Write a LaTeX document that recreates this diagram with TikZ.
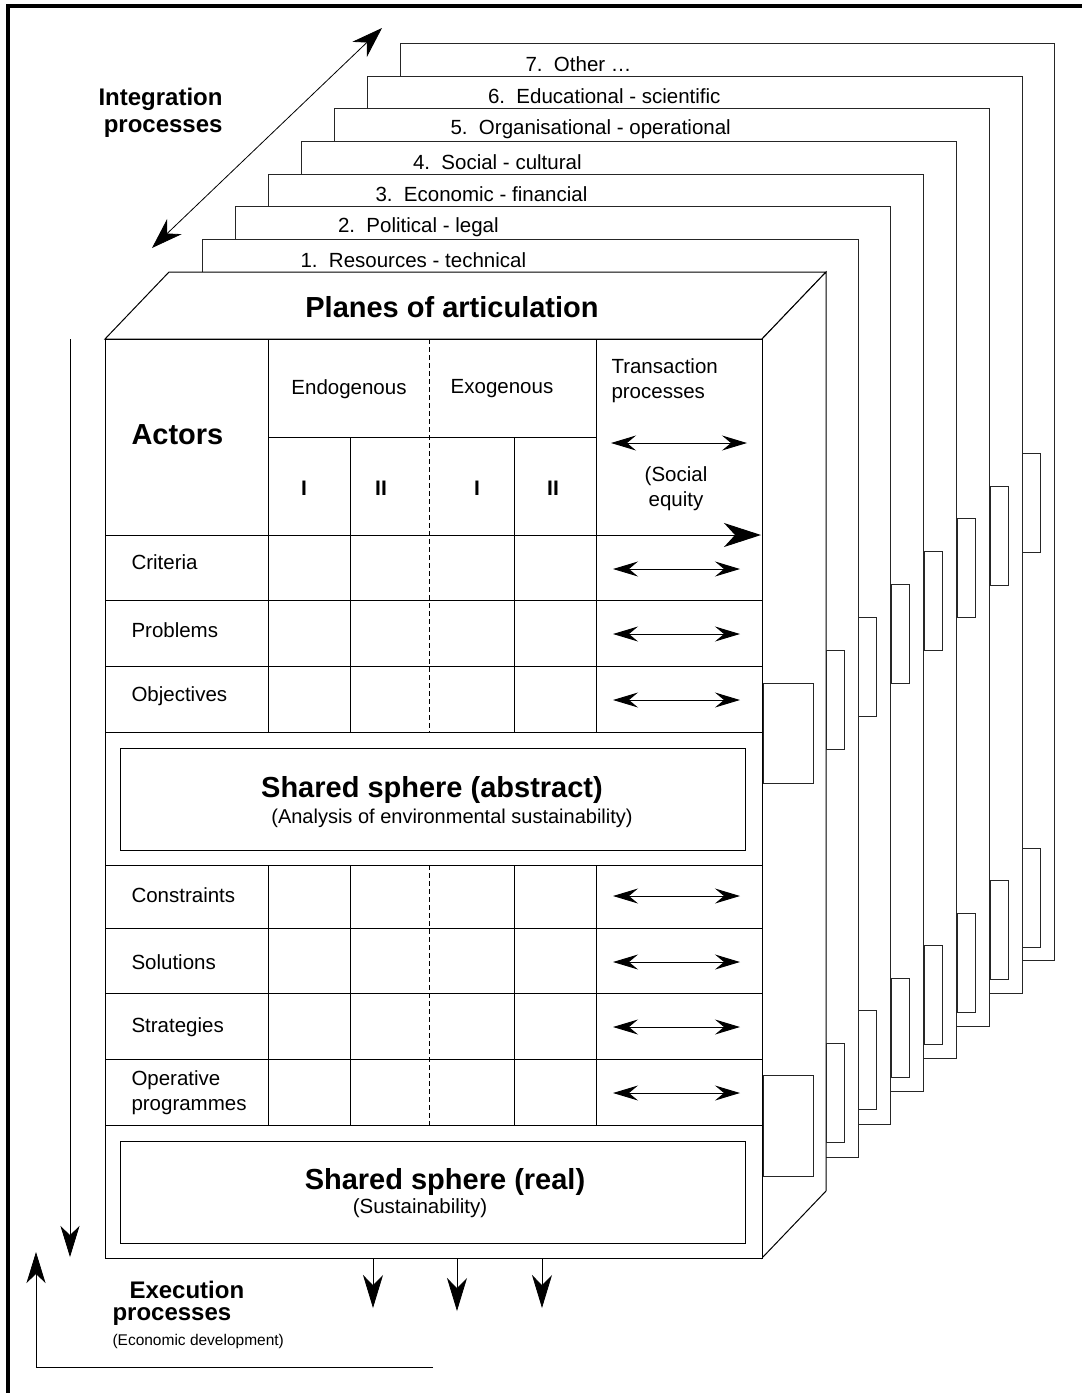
\documentclass[tikz,border=0pt]{standalone}
\usepackage{fontspec}
\setmainfont{Liberation Sans}
\usetikzlibrary{arrows.meta}
\begin{document}
\begin{tikzpicture}[x=1pt,y=-1pt,line width=1pt,line join=miter,
  reg/.style={font=\fontsize{20.5}{25}\selectfont,inner sep=0pt},
  small/.style={font=\fontsize{16}{19}\selectfont,inner sep=0pt},
  bld/.style={font=\fontsize{29}{33}\selectfont\bfseries,inner sep=0pt},
  side/.style={font=\fontsize{24}{27}\selectfont\bfseries,inner sep=0pt},
  roman/.style={font=\fontsize{21}{24}\selectfont\bfseries,inner sep=0pt},
  plane/.style={draw=black!85,fill=white},
  tab/.style={draw=black!85,fill=white},
  dbl/.style={{Stealth[length=25pt,width=15pt,inset=9pt]}-{Stealth[length=25pt,width=15pt,inset=9pt]}},
  bigdown/.style={-{Stealth[length=33pt,width=20pt,inset=10pt]}},
  thinarrow/.style={line width=0.8pt,-{Stealth[length=31pt,width=19pt,inset=9pt]}},
  bigright/.style={-{Stealth[length=37pt,width=24pt,inset=11pt]}},
  intarrow/.style={line width=0.8pt,{Stealth[length=31pt,width=21pt,inset=10pt]}-{Stealth[length=31pt,width=21pt,inset=10pt]}}
]
\useasboundingbox (0,0) rectangle (1082,1393);
\fill[white] (0,0) rectangle (1082,1393);

% outer frame (left and top)
\draw[line width=3.5pt] (8,1393) -- (8,6) -- (1082,6);

% planes, back to front
\foreach \k/\txt in {7/{7.\ \ Other \dots},6/{6.\ \ Educational - scientific},5/{5.\ \ Organisational - operational},4/{4.\ \ Social - cultural},3/{3.\ \ Economic - financial},2/{2.\ \ Political - legal},1/{1.\ \ Resources - technical}} {
  \pgfmathsetmacro\L{202+33*(\k-1)}
  \pgfmathsetmacro\T{239.5-32.7*(\k-1)}
  \pgfmathsetmacro\R{858+32.8*(\k-1)}
  \pgfmathsetmacro\B{1157-32.7*(\k-1)}
  \pgfmathsetmacro\X{300+37.5*(\k-1)}
  \pgfmathsetmacro\Y{\T+20.5}
  \draw[plane] (\L,\T) rectangle (\R,\B);
  \node[reg,anchor=west] (plane\k) at (\X,\Y) {\txt};
}

% the box
\draw[fill=white] (105,339) -- (169,272) -- (826,272) -- (762,339) -- cycle;
\draw[fill=white] (762,339) -- (826,272) -- (826,1191) -- (762,1258) -- cycle;
\draw[fill=white] (105,339) rectangle (762,1258);

% tabs on the plane edges
\foreach \k in {0,...,6} {
  \pgfmathsetmacro\R{826+32.8*\k}
  \pgfmathsetmacro\Ra{\R+18}
  \pgfmathsetmacro\Ua{650-32.8*\k}
  \pgfmathsetmacro\Ub{749-32.8*\k}
  \pgfmathsetmacro\Da{1043-32.5*\k}
  \pgfmathsetmacro\Db{1142-32.5*\k}
  \draw[tab] (\R,\Ua) rectangle (\Ra,\Ub);
  \draw[tab] (\R,\Da) rectangle (\Ra,\Db);
}
\draw[tab] (763,683) rectangle (813,783);
\draw[tab] (763,1075) rectangle (813,1176);

% title
\node[bld] (title) at (452,307) {Planes of articulation};

% table grid
\foreach \y in {600,666,732,865,928,993,1059,1125} \draw (105,\y) -- (762,\y);
\draw (105,535) -- (596,535);
\draw (268,437) -- (596,437);
\foreach \x in {268,596} {\draw (\x,339) -- (\x,732); \draw (\x,865) -- (\x,1125);}
\foreach \x in {350,514} {\draw (\x,437) -- (\x,732); \draw (\x,865) -- (\x,1125);}
\draw[line width=0.6pt,dash pattern=on 5pt off 3pt] (429,339) -- (429,732);
\draw[line width=0.6pt,dash pattern=on 5pt off 3pt] (429,865) -- (429,1125);

% header
\node[bld,anchor=west] (actors) at (131,435) {Actors};
\node[reg] (endo) at (349,389) {Endogenous};
\node[reg] (exo) at (502,389) {Exogenous};
\node[reg,anchor=north west,align=left] (trans) at (611,358) {Transaction\\processes};
\node[reg,align=center] (equity) at (676,489) {(Social\\equity};
\node[roman] (e1) at (304,488) {I};
\node[roman] (e2) at (381,488) {II};
\node[roman] (x1) at (477,488) {I};
\node[roman] (x2) at (553,488) {II};
\coordinate (ha) at (611,443);
\coordinate (hb) at (747,443);
\draw[dbl] (ha) -- (hb);
\coordinate (sa) at (596,535);
\coordinate (sb) at (761,535);
\draw[bigright] (sa) -- (sb);

% rows
\node[reg,anchor=west] (r1) at (131,562) {Criteria};
\node[reg,anchor=west] (r2) at (131,630) {Problems};
\node[reg,anchor=west] (r3) at (131,696) {Objectives};
\node[reg,anchor=west] (r4) at (131,895) {Constraints};
\node[reg,anchor=west] (r5) at (131,962) {Solutions};
\node[reg,anchor=west] (r6) at (131,1027) {Strategies};
\node[reg,anchor=west,align=left] (r7) at (131,1093) {Operative\\programmes};
\foreach \y in {569,634,700,896,962,1027,1093} {
  \coordinate (la\y) at (613,\y);
  \coordinate (lb\y) at (740,\y);
  \draw[dbl] (la\y) -- (lb\y);
}

% shared spheres
\draw (120,748) rectangle (745,850);
\node[bld] (ssa) at (432,790) {Shared sphere (abstract)};
\node[reg,font=\fontsize{20}{24}\selectfont] (ssas) at (452,818) {(Analysis of environmental sustainability)};
\draw (120,1141) rectangle (745,1243);
\node[bld] (ssr) at (445,1182) {Shared sphere (real)};
\node[reg] (ssrs) at (420,1208) {(Sustainability)};

% down arrows below the box
\foreach \x/\t in {373/1308,457/1311,542/1308} {
  \coordinate (da\x) at (\x,1258);
  \coordinate (db\x) at (\x,\t);
  \draw[bigdown,line width=0.8pt] (da\x) -- (db\x);
}

% left arrows
\coordinate (va) at (70,339);
\coordinate (vb) at (70,1257);
\draw[thinarrow] (va) -- (vb);
\coordinate (lc) at (433,1367);
\coordinate (ld) at (36,1367);
\coordinate (le) at (36,1252);
\draw[thinarrow] (lc) -- (ld) -- (le);

% integration arrow
\coordinate (ia) at (152,248);
\coordinate (ib) at (382,28);
\draw[intarrow] (ia) -- (ib);
\node[side,anchor=east,align=right] (integ) at (223,113) {Integration\\processes};

% execution label
\node[side,anchor=west] (exec1) at (129,1290) {Execution};
\node[side,anchor=west] (exec2) at (112,1316) {processes};
\node[small,anchor=west,font=\fontsize{15.5}{18}\selectfont] (exec3) at (112,1341) {(Economic development)};
\end{tikzpicture}
\end{document}
